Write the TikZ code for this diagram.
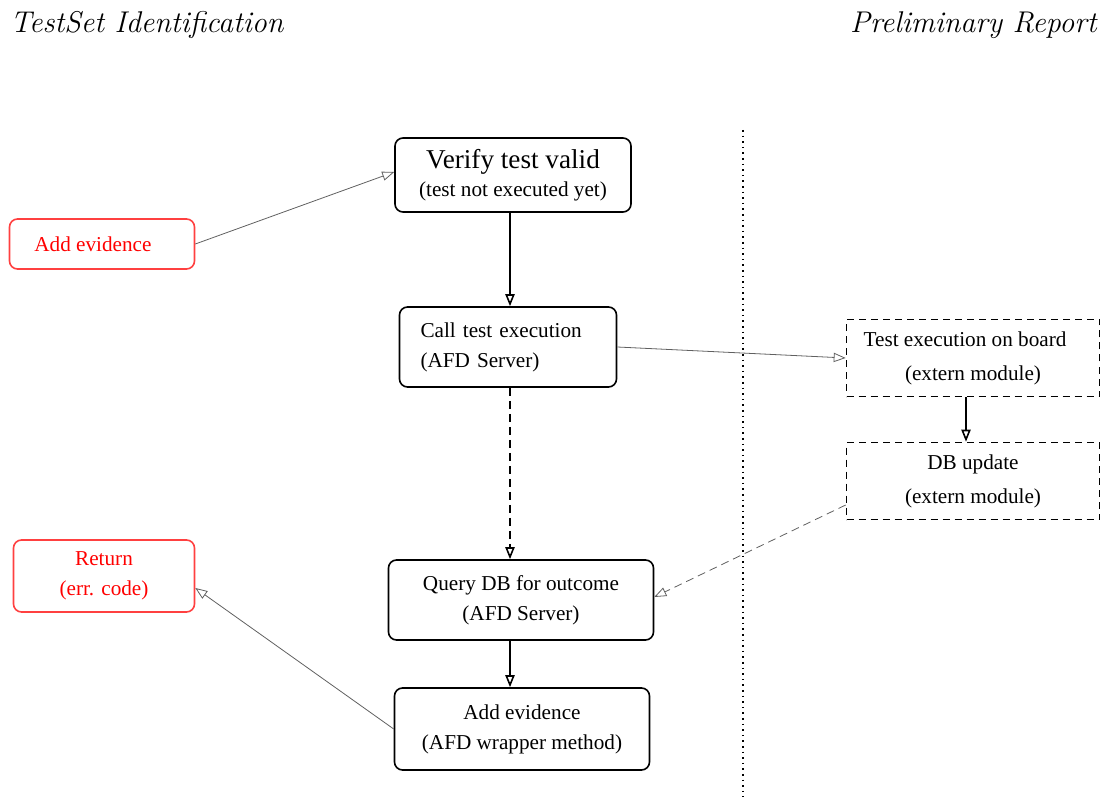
\documentclass[tikz,border=0pt]{standalone}
\usepackage{fontspec}
\setmainfont{Liberation Serif}
\newfontfamily\lmfont{Latin Modern Roman}
\usetikzlibrary{arrows.meta}
\tikzset{
  box/.style={draw, rounded corners=4pt, line width=0.8pt, inner sep=0pt,
    align=center, font=\fontsize{10.6}{15}\selectfont},
  redbox/.style={box, draw=red!75, text=red},
  extbox/.style={draw, dash pattern=on 3.5pt off 2.5pt, line width=0.8pt, inner sep=0pt, align=center,
    font=\fontsize{10.6}{17}\selectfont},
  tip/.style={-{Triangle[open,length=6pt,width=4.6pt]}},
  flow/.style={line width=0.8pt, tip},
  soft/.style={gray!75!black, line width=0.4pt, tip},
  title/.style={font=\lmfont\itshape\fontsize{15}{18}\selectfont, inner sep=0pt}
}
\begin{document}
\begin{tikzpicture}[x=0.5pt,y=-0.5pt]
\useasboundingbox (0,0) rectangle (1105,797);

% column headings
\node[title, anchor=west] (lefthead) at (10,25) {TestSet Identification};
\node[title, anchor=east] (righthead) at (1097,25) {Preliminary Report};

% boundary between the two columns
\coordinate (sepTop) at (743,130);
\coordinate (sepBot) at (743,797);
\draw[dotted, line width=0.8pt] (sepTop) -- (sepBot);

% main flow
\node[box, minimum width=118pt, minimum height=37pt] (verify) at (513,175)
  {{\fontsize{13.6}{15}\selectfont Verify test valid}\\[-1pt](test not executed yet)};
\node[box, minimum width=108.5pt, minimum height=40pt, align=left, text width=87.5pt] (call) at (508,347)
  {Call test execution\\(AFD Server)};
\node[box, minimum width=132.5pt, minimum height=40pt] (query) at (521,600)
  {Query DB for outcome\\(AFD Server)};
\node[box, minimum width=127.5pt, minimum height=41pt] (afd) at (522,729)
  {Add evidence\\(AFD wrapper method)};

% error / side entries
\node[redbox, minimum width=92.5pt, minimum height=25pt] (addred) at (102,244)
  {\hspace*{-9pt}Add evidence};
\node[redbox, minimum width=90.5pt, minimum height=36pt] (ret) at (104,576)
  {Return\\(err. code)};

% external modules
\node[extbox, minimum width=126.5pt, minimum height=38.5pt] (exec) at (973,358)
  {\hspace*{-8pt}Test execution on board\\(extern module)};
\node[extbox, minimum width=126.5pt, minimum height=38.5pt] (dbu) at (973,481)
  {DB update\\(extern module)};

% connectors
\draw[soft] (addred.east) -- ([yshift=1.5pt]verify.west);
\draw[flow] ([xshift=-1.5pt]verify.south) -- ([xshift=-1.5pt]verify.south |- call.north);
\draw[soft] (call.east) -- (exec.west);
\draw[flow, dash pattern=on 4pt off 2.5pt] ([xshift=1pt]call.south) -- ([xshift=1pt]call.south |- query.north);
\draw[flow] ([xshift=-3.5pt]exec.south) -- ([xshift=-3.5pt]exec.south |- dbu.north);
\draw[soft, dash pattern=on 4pt off 2.5pt] ([yshift=-12pt]dbu.west) -- ([yshift=1.5pt]query.east);
\draw[flow] ([xshift=-5.5pt]query.south) -- ([xshift=-5.5pt]query.south |- afd.north);
\draw[soft] (afd.west) -- ([yshift=-6pt]ret.east);
\end{tikzpicture}
\end{document}
